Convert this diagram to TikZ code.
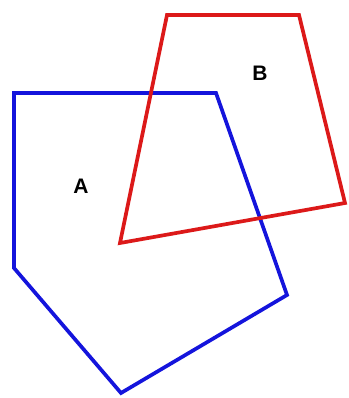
\documentclass[tikz,border=0pt]{standalone}
\usepackage{fontspec}
\setmainfont{Liberation Sans}
\begin{document}
\begin{tikzpicture}[x=1pt,y=-1pt,
  polyA/.style={draw={rgb,255:red,20;green,20;blue,220},line width=3.7pt,line join=miter},
  polyB/.style={draw={rgb,255:red,220;green,25;blue,25},line width=3.7pt,line join=miter},
  lab/.style={font=\bfseries\fontsize{21}{24}\selectfont,inner sep=0pt}]
\useasboundingbox (0,0) rectangle (348,398);
\coordinate (a1) at (14,93);
\coordinate (a2) at (216,93);
\coordinate (a3) at (287,295);
\coordinate (a4) at (121,393);
\coordinate (a5) at (14,268);
\coordinate (b1) at (167,15);
\coordinate (b2) at (299,15);
\coordinate (b3) at (345,203);
\coordinate (b4) at (120,243);
\draw[polyA] (a1) -- (a2) -- (a3) -- (a4) -- (a5) -- cycle;
\draw[polyB] (b1) -- (b2) -- (b3) -- (b4) -- cycle;
\node[lab] (A) at (81,186) {A};
\node[lab] (B) at (260,73) {B};
\end{tikzpicture}
\end{document}
